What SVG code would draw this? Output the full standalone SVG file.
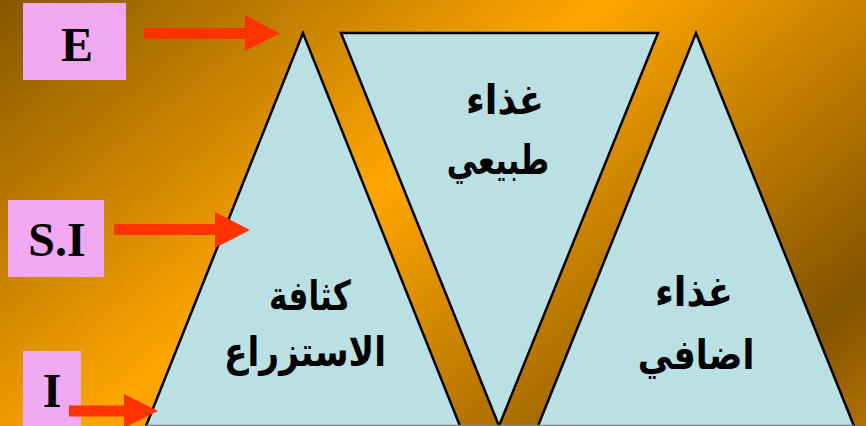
<svg xmlns="http://www.w3.org/2000/svg" width="866" height="426" viewBox="0 0 866 426">
  <defs>
    <linearGradient id="bg" gradientUnits="userSpaceOnUse" x1="0" y1="0" x2="563" y2="677">
      <stop offset="0" stop-color="#865800"/>
      <stop offset="0.44" stop-color="#FFA600"/>
      <stop offset="0.88" stop-color="#835400"/>
      <stop offset="1" stop-color="#B07000"/>
    </linearGradient>
  </defs>
  <style>
    .tri { fill: #BAE0E4; stroke: none; }
    .edge { fill: none; stroke: #000; stroke-width: 2.5; stroke-linejoin: miter; }
    .box { fill: #F0A8F0; }
    .lbl { font-family: "Liberation Serif", "Times New Roman", serif; font-weight: bold; font-size: 48px; fill: #000; text-anchor: middle; }
    .ar { font-family: "DejaVu Sans", "Noto Sans", sans-serif; font-weight: bold; font-size: 41px; fill: #000; text-anchor: middle; }
    .arrow { stroke: #FF3300; stroke-width: 11; fill: none; }
  </style>
  <rect x="0" y="0" width="866" height="426" fill="url(#bg)"/>

  <g id="tri-density">
    <polygon class="tri" points="303,33 146,426 460,426"/>
    <polyline class="edge" points="146,426 303,33 460,426"/>
    <text class="ar" transform="translate(310,310) scale(0.76,1)">كثافة</text>
    <text class="ar" transform="translate(305,366) scale(0.84,1)">الاستزراع</text>
  </g>

  <g id="tri-natural">
    <polygon class="tri" points="341,33 658,33 499,426"/>
    <polygon class="edge" points="341,33 658,33 499,426"/>
    <text class="ar" transform="translate(505,114) scale(0.9,1)">غذاء</text>
    <text class="ar" transform="translate(498,174) scale(0.75,1)">طبيعي</text>
  </g>

  <g id="tri-extra">
    <polygon class="tri" points="696,33 538,426 854,426"/>
    <polyline class="edge" points="538,426 696,33 854,426"/>
    <text class="ar" transform="translate(694,306) scale(0.9,1)">غذاء</text>
    <text class="ar" transform="translate(696,369) scale(0.85,1)">اضافي</text>
  </g>

  <line x1="146" y1="425.5" x2="854" y2="425.5" stroke="#7A8A90" stroke-width="1.5"/>

  <g id="box-E">
    <rect class="box" x="23" y="3" width="103" height="77"/>
    <text class="lbl" x="77" y="61">E</text>
  </g>
  <g id="box-SI">
    <rect class="box" x="8" y="200" width="96" height="77"/>
    <text class="lbl" x="57" y="256">S.I</text>
  </g>
  <g id="box-I">
    <rect class="box" x="23" y="351" width="58" height="80"/>
    <text class="lbl" x="52" y="407">I</text>
  </g>

  <g id="connectors">
    <path d="M144,33.5 H246" class="arrow"/>
    <polygon points="245,15 280,33.5 245,51" fill="#FF3300"/>
    <path d="M114,229.5 H216" class="arrow"/>
    <polygon points="215,212 250,230 215,248" fill="#FF3300"/>
    <path d="M69,411 H125" class="arrow"/>
    <polygon points="124,394 158,411 124,428" fill="#FF3300"/>
  </g>
</svg>
